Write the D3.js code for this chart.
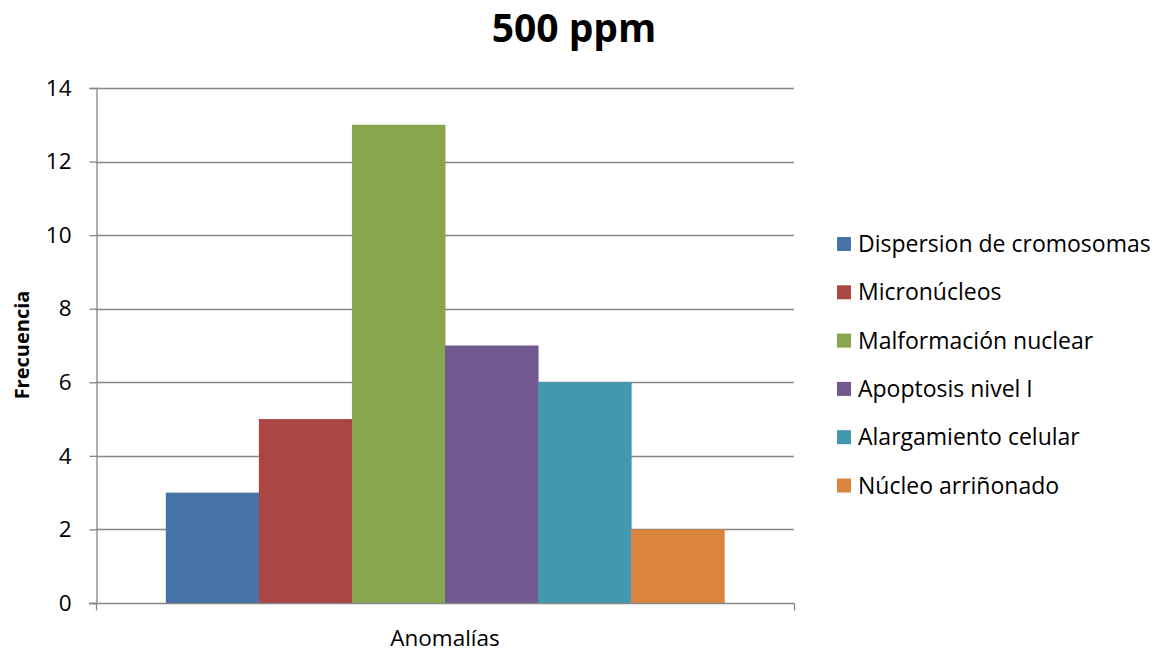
<!DOCTYPE html>
<meta charset="utf-8">
<script src="https://d3js.org/d3.v7.min.js"></script>
<style>
  body { margin: 0; background: #fff; }
  text { font-family: "Open Sans", sans-serif; fill: #000; }
</style>
<body>
<div id="chart"></div>
<script>
  // data
  var categories = ["Anomalías"];
  var series = ["Dispersion de cromosomas", "Micronúcleos", "Malformación nuclear",
                "Apoptosis nivel I", "Alargamiento celular", "Núcleo arriñonado"];
  var values = [3, 5, 13, 7, 6, 2];
  var colors = ["#4572a7", "#aa4643", "#89a54e", "#71588f", "#4198af", "#db843d"];
  var yTicks = [0, 2, 4, 6, 8, 10, 12, 14];

  var W = 1156, H = 652;
  var plot = {left: 96, right: 794, top: 88, bottom: 603};

  var svg = d3.select("#chart").append("svg")
    .attr("width", W).attr("height", H);

  var y = d3.scaleLinear().domain([0, 14]).range([plot.bottom, plot.top]);

  // one category, gap width 150% -> bars take 6/7.5 of the band
  var x0 = d3.scaleBand().domain(categories).range([plot.left, plot.right])
    .paddingInner(0).paddingOuter(0.125);
  var x1 = d3.scaleBand().domain(series).range([0, x0.bandwidth()]).padding(0);

  // gridlines
  svg.append("g")
    .selectAll("line")
    .data(yTicks.filter(d => d > 0))
    .enter().append("line")
    .attr("x1", plot.left).attr("x2", plot.right)
    .attr("y1", d => Math.round(y(d)) + 0.5).attr("y2", d => Math.round(y(d)) + 0.5)
    .attr("stroke", "#868686").attr("stroke-width", 1.3);

  // bars
  var g = svg.append("g")
    .selectAll("g")
    .data(categories)
    .enter().append("g")
    .attr("transform", d => "translate(" + x0(d) + ",0)");

  g.selectAll("rect")
    .data(series.map((s, i) => ({name: s, value: values[i], color: colors[i]})))
    .enter().append("rect")
    .attr("x", d => x1(d.name))
    .attr("width", x1.bandwidth() + 0.5)
    .attr("y", d => y(d.value))
    .attr("height", d => y(0) - y(d.value))
    .attr("fill", d => d.color);

  // y axis
  var yAxis = d3.axisLeft(y).tickValues(yTicks).tickSize(7).tickPadding(18);
  var ya = svg.append("g")
    .attr("transform", "translate(" + (plot.left + 0.5) + ",0)")
    .call(yAxis);
  ya.select(".domain").attr("stroke", "#868686").attr("stroke-width", 1.3);
  ya.selectAll(".tick line").attr("stroke", "#868686").attr("stroke-width", 1.3);
  ya.selectAll(".tick text")
    .style("font-family", "'Open Sans', sans-serif")
    .style("font-size", "22.5px").attr("fill", "#000");

  // x axis: ticks at band edges
  var xa = svg.append("g").attr("transform", "translate(0," + (plot.bottom + 0.5) + ")");
  xa.append("line").attr("x1", plot.left - 7).attr("x2", plot.right)
    .attr("stroke", "#868686").attr("stroke-width", 1.3);
  xa.selectAll(".edge")
    .data([plot.left, plot.right])
    .enter().append("line")
    .attr("x1", d => d + 0.5).attr("x2", d => d + 0.5)
    .attr("y1", 0).attr("y2", 7)
    .attr("stroke", "#868686").attr("stroke-width", 1.3);
  xa.selectAll(".cat")
    .data(categories)
    .enter().append("text")
    .attr("x", d => x0(d) + x0.bandwidth() / 2)
    .attr("y", 42)
    .attr("text-anchor", "middle")
    .style("font-size", "22.5px")
    .text(d => d);

  // title
  svg.append("text")
    .attr("x", 574).attr("y", 42)
    .attr("text-anchor", "middle")
    .style("font-size", "39px").style("font-weight", "bold")
    .text("500 ppm");

  // y axis title
  svg.append("text")
    .attr("transform", "translate(29,345) rotate(-90)")
    .attr("text-anchor", "middle")
    .style("font-size", "20px").style("font-weight", "bold")
    .text("Frecuencia");

  // legend
  var leg = svg.append("g").attr("transform", "translate(837,244)");
  var item = leg.selectAll("g")
    .data(series)
    .enter().append("g")
    .attr("transform", (d, i) => "translate(0," + (i * 48.3) + ")");
  item.append("rect")
    .attr("x", 0).attr("y", -7).attr("width", 14).attr("height", 14)
    .attr("fill", (d, i) => colors[i]);
  item.append("text")
    .attr("x", 21).attr("y", 8)
    .style("font-size", "23px")
    .text(d => d);
</script>
</body>
